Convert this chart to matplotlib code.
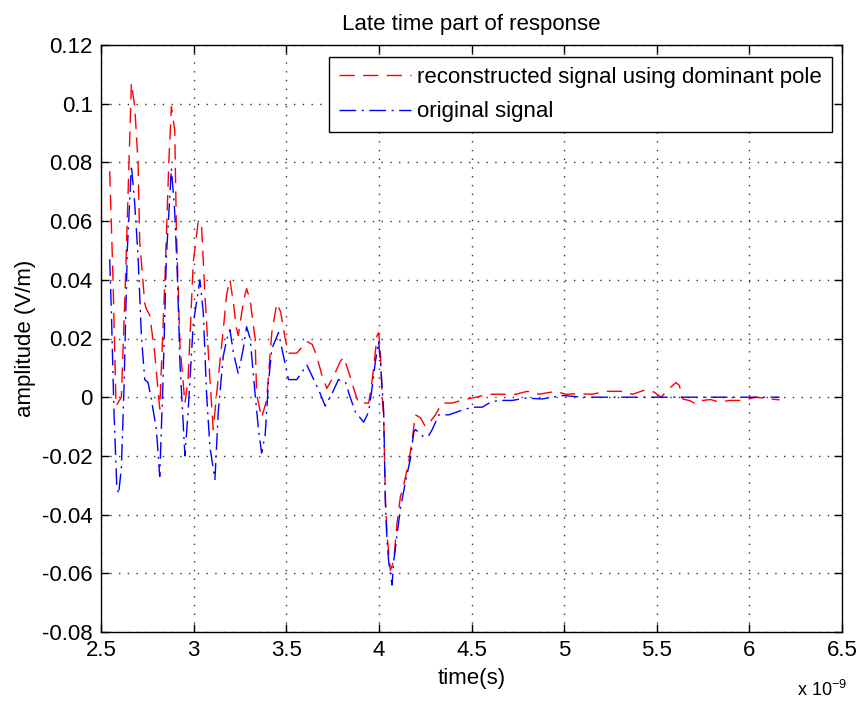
import matplotlib
matplotlib.use("Agg")
import matplotlib.pyplot as plt

# time axis in units of 1e-9 s
t_recon = [2.547, 2.565, 2.581, 2.610, 2.632, 2.664, 2.682, 2.700, 2.709, 2.736, 2.745,
           2.763, 2.790, 2.817, 2.845, 2.866, 2.880, 2.898, 2.907, 2.926, 2.953, 2.970,
           2.998, 3.025, 3.043, 3.061, 3.088, 3.106, 3.124, 3.160, 3.178, 3.196, 3.215,
           3.230, 3.241, 3.270, 3.286, 3.305, 3.332, 3.340, 3.367, 3.394, 3.422, 3.449,
           3.470, 3.494, 3.512, 3.557, 3.611, 3.640, 3.665, 3.690, 3.719, 3.755, 3.790,
           3.810, 3.840, 3.864, 3.890, 3.918, 3.945, 3.960, 3.972, 3.990, 3.999, 4.008,
           4.017, 4.026, 4.035, 4.044, 4.062, 4.080, 4.098, 4.116, 4.134, 4.161, 4.179,
           4.197, 4.224, 4.251, 4.270, 4.305, 4.341, 4.396, 4.450, 4.522, 4.594, 4.648,
           4.738, 4.801, 4.865, 4.955, 5.009, 5.080, 5.153, 5.225, 5.315, 5.370, 5.442,
           5.487, 5.523, 5.568, 5.604, 5.622, 5.640, 5.680, 5.712, 5.748, 5.790, 5.839,
           5.893, 5.965, 6.037, 6.109, 6.163]
a_recon = [0.077, 0.040, -0.003, 0.000, 0.040, 0.107, 0.099, 0.080, 0.053, 0.032, 0.030,
           0.028, 0.015, -0.004, 0.040, 0.080, 0.099, 0.091, 0.057, 0.018, -0.002, 0.006,
           0.046, 0.060, 0.058, 0.035, 0.006, -0.011, 0.001, 0.023, 0.035, 0.040, 0.032,
           0.024, 0.021, 0.033, 0.037, 0.033, 0.020, 0.001, -0.007, -0.001, 0.022, 0.032,
           0.029, 0.020, 0.015, 0.015, 0.019, 0.018, 0.014, 0.008, 0.003, 0.007, 0.012,
           0.0136, 0.008, 0.003, -0.002, -0.002, -0.002, 0.004, 0.010, 0.021, 0.022, 0.015,
           0.001, -0.007, -0.034, -0.047, -0.059, -0.056, -0.043, -0.034, -0.030, -0.022, -0.015,
           -0.006, -0.007, -0.010, -0.009, -0.006, -0.002, -0.002, -0.001, 0.000, 0.001, 0.001,
           0.001, 0.002, 0.001, 0.002, 0.001, 0.0012, 0.001, 0.002, 0.002, 0.001, 0.0026,
           0.0017, 0.000, 0.003, 0.005, 0.004, -0.0006, -0.0012, -0.0023, -0.0011, -0.0008, -0.0017,
           -0.0011, -0.0011, 0.000, -0.0006, -0.0009]

t_orig = [2.547, 2.556, 2.570, 2.585, 2.595, 2.610, 2.624, 2.642, 2.664, 2.682, 2.700,
          2.718, 2.736, 2.754, 2.770, 2.799, 2.817, 2.835, 2.853, 2.880, 2.898, 2.913,
          2.926, 2.953, 2.970, 2.998, 3.034, 3.052, 3.070, 3.088, 3.115, 3.133, 3.160,
          3.180, 3.196, 3.215, 3.241, 3.268, 3.286, 3.305, 3.332, 3.350, 3.367, 3.386,
          3.404, 3.422, 3.458, 3.485, 3.512, 3.557, 3.611, 3.656, 3.685, 3.710, 3.745,
          3.782, 3.820, 3.845, 3.873, 3.918, 3.945, 3.963, 3.981, 3.999, 4.008, 4.017,
          4.026, 4.035, 4.044, 4.053, 4.071, 4.080, 4.098, 4.116, 4.143, 4.170, 4.188,
          4.197, 4.243, 4.270, 4.288, 4.324, 4.378, 4.423, 4.468, 4.513, 4.558, 4.603,
          4.648, 4.720, 4.792, 4.882, 4.936, 4.990, 5.099, 5.200, 5.300, 5.400, 5.500,
          5.600, 5.700, 5.800, 5.900, 6.000, 6.100, 6.163]
a_orig = [0.047, 0.029, -0.005, -0.030, -0.033, -0.024, 0.003, 0.050, 0.079, 0.066, 0.048,
          0.021, 0.006, 0.005, 0.000, -0.011, -0.027, 0.006, 0.048, 0.078, 0.063, 0.040,
          0.012, -0.020, -0.005, 0.025, 0.040, 0.029, 0.001, -0.017, -0.028, -0.005, 0.014,
          0.020, 0.023, 0.015, 0.008, 0.0165, 0.024, 0.020, 0.001, -0.011, -0.019, -0.013,
          0.005, 0.0165, 0.022, 0.014, 0.006, 0.006, 0.011, 0.005, 0.001, -0.003, 0.001,
          0.006, 0.005, 0.000, -0.005, -0.0085, -0.005, 0.003, 0.012, 0.019, 0.012, 0.004,
          -0.005, -0.036, -0.049, -0.056, -0.064, -0.056, -0.047, -0.038, -0.029, -0.021, -0.012,
          -0.011, -0.0136, -0.013, -0.011, -0.006, -0.006, -0.005, -0.004, -0.0034, -0.0034, -0.0017,
          -0.0011, -0.0011, -0.0003, -0.0006, 0.000, 0.0006, 0.000, 0.000, 0.000, 0.000, 0.000,
          0.000, 0.000, 0.000, 0.000, 0.000, 0.000, 0.000]

x_ticks = [2.5, 3, 3.5, 4, 4.5, 5, 5.5, 6, 6.5]
x_tick_labels = ["2.5", "3", "3.5", "4", "4.5", "5", "5.5", "6", "6.5"]
y_ticks = [-0.08, -0.06, -0.04, -0.02, 0, 0.02, 0.04, 0.06, 0.08, 0.1, 0.12]
y_tick_labels = ["-0.08", "-0.06", "-0.04", "-0.02", "0", "0.02", "0.04", "0.06", "0.08", "0.1", "0.12"]

plt.rcParams['font.family'] = ['Liberation Sans', 'DejaVu Sans']
FS = 16

W, H = 861, 704
fig = plt.figure(figsize=(W / 100, H / 100), dpi=100)
L, R, T, B = 101, 842, 45, 632
ax = fig.add_axes([L / W, 1 - B / H, (R - L) / W, (B - T) / H])

ax.plot(t_recon, a_recon, color=(1, 0, 0), lw=1.0, dashes=(11, 6),
        label="reconstructed signal using dominant pole")
ax.plot(t_orig, a_orig, color=(0, 0, 1), lw=1.0, dashes=(12, 4, 1.5, 4),
        label="original signal")

ax.set_xlim(2.5, 6.5)
ax.set_ylim(-0.08, 0.12)
ax.set_xticks(x_ticks)
ax.set_xticklabels(x_tick_labels)
ax.set_yticks(y_ticks)
ax.set_yticklabels(y_tick_labels)
ax.tick_params(direction='in', top=True, right=True, length=6, width=1,
               labelsize=FS, pad=6)
ax.grid(True, color='0.2', linestyle=(0, (1, 5.3)), linewidth=1.0)
for s in ax.spines.values():
    s.set_linewidth(1.0)
    s.set_color('black')

ax.set_title("Late time part of response", fontsize=FS, pad=11)
ax.set_xlabel("time(s)", fontsize=FS, labelpad=5)
ax.set_ylabel("amplitude (V/m)", fontsize=FS, labelpad=4)
fig.text(847 / W, 1 - 690 / H, r"x 10$^{\mathregular{-9}}$", fontsize=13,
         ha='right', va='center')

leg = ax.legend(loc='upper right', bbox_to_anchor=((832 - L) / (R - L), (B - 57) / (B - T)),
                borderaxespad=0, fontsize=FS, handlelength=3.2, handletextpad=0.3,
                fancybox=False, framealpha=1, edgecolor='black', borderpad=0.45,
                labelspacing=0.6)
leg.get_frame().set_linewidth(1.0)

fig.savefig("out.png", dpi=100)
